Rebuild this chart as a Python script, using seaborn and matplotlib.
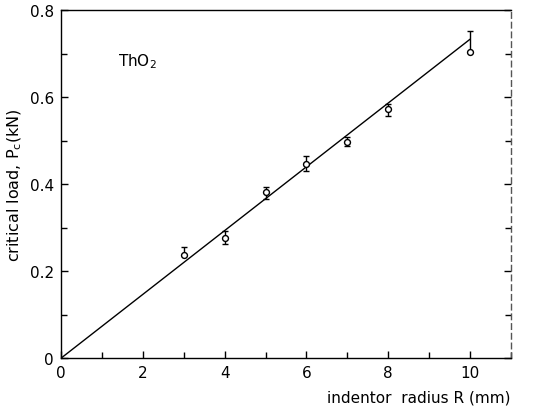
import matplotlib
matplotlib.use("Agg")
import matplotlib.pyplot as plt
import seaborn as sns
import numpy as np
import pandas as pd
from matplotlib.ticker import MultipleLocator

radius = [3, 4, 5, 6, 7, 8, 10]
load = [0.238, 0.277, 0.381, 0.447, 0.497, 0.572, 0.704]
err_low = [0.0, 0.015, 0.015, 0.017, 0.009, 0.015, 0.0]
err_high = [0.017, 0.016, 0.013, 0.017, 0.012, 0.013, 0.048]
fit_x = [0, 10]
fit_y = [0.0, 0.733]

sns.set_style("ticks")
plt.rcParams['font.family'] = ['DejaVu Sans']
plt.rcParams['text.color'] = 'black'
plt.rcParams['axes.labelcolor'] = 'black'
plt.rcParams['xtick.color'] = 'black'
plt.rcParams['ytick.color'] = 'black'

fig = plt.figure(figsize=(5.5, 4.1), dpi=100)
ax = fig.add_axes([0.111, 0.124, 0.818, 0.849])

df = pd.DataFrame({"R": radius, "P": load})
fit = pd.DataFrame({"R": fit_x, "P": fit_y})

sns.lineplot(data=fit, x="R", y="P", ax=ax, color="black", lw=1.0)
ax.errorbar(radius, load, yerr=[err_low, err_high], fmt="none",
            ecolor="black", elinewidth=1.0, capsize=2.5, capthick=1.0)
sns.scatterplot(data=df, x="R", y="P", ax=ax, marker="o", s=18,
                facecolor="white", edgecolor="black", linewidth=1.0, zorder=5)

ax.set_xlim(0, 11)
ax.set_ylim(0, 0.8)
ax.xaxis.set_minor_locator(MultipleLocator(1))
ax.yaxis.set_minor_locator(MultipleLocator(0.1))
ax.set_xticks([0, 2, 4, 6, 8, 10])
ax.set_xticklabels(["0", "2", "4", "6", "8", "10"])
ax.set_yticks([0, 0.2, 0.4, 0.6, 0.8])
ax.set_yticklabels(["0", "0.2", "0.4", "0.6", "0.8"])
ax.tick_params(which="both", direction="in", right=True, top=False,
               labelsize=11, color="black", labelcolor="black")
ax.tick_params(which="major", length=5, width=1, pad=5)
ax.tick_params(which="minor", length=4, width=1)
for s in ax.spines.values():
    s.set_linewidth(1.0)
    s.set_color("black")
ax.spines["right"].set_linestyle((0, (4, 3)))
ax.spines["right"].set_color("#555555")

ax.set_xlabel("")
ax.set_ylabel("critical load, P$_\\mathregular{c}$(kN)", fontsize=11.5, labelpad=4,
              color="black")
fig.text(0.928, 0.012, "indentor  radius R (mm)", ha="right", va="bottom",
         fontsize=11, color="black")
ax.text(1.4, 0.683, "ThO$_\\mathregular{2}$", fontsize=11, ha="left", va="center",
        color="black")

fig.savefig("out.png", dpi=100)
